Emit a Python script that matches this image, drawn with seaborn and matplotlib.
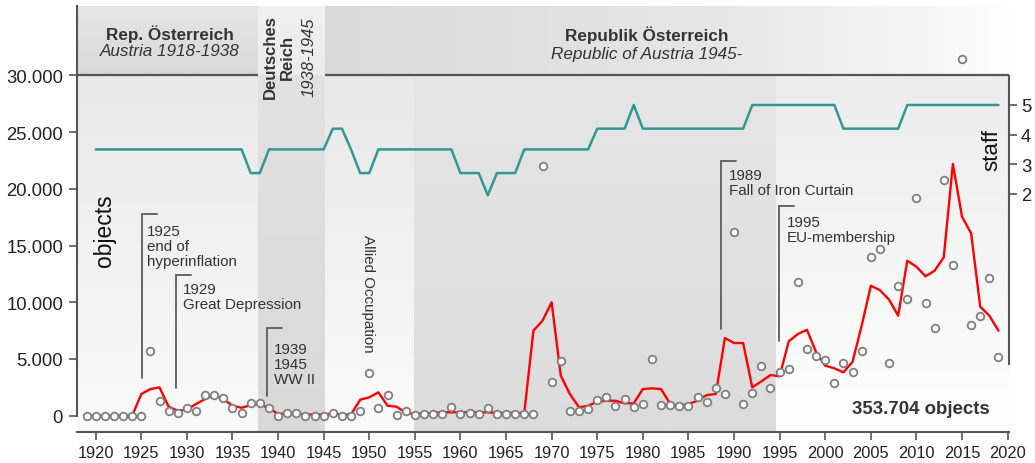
import numpy as np
import pandas as pd
import matplotlib
matplotlib.use("Agg")
import matplotlib.pyplot as plt
from matplotlib.ticker import FixedLocator, FuncFormatter
from matplotlib.colors import to_rgb
import seaborn as sns

# ---------------- data ----------------
years = list(range(1919, 2020))
objects = [
    0, 0, 0, 0, 0, 0, 0, 5680, 1320, 440,
    210, 680, 440, 1820, 1820, 1590, 680, 210, 1120, 1120,
    680, 0, 210, 210, 0, 0, 0, 210, 0, 0,
    440, 3760, 680, 1800, 100, 440, 50, 120, 120, 180,
    740, 120, 210, 120, 680, 180, 120, 120, 180, 120,
    22050, 2940, 4790, 440, 440, 590, 1380, 1650, 880, 1470,
    740, 1030, 5000, 940, 940, 820, 880, 1650, 1200, 2470,
    1880, 16180, 1000, 1970, 4410, 2440, 3820, 4120, 11790, 5850,
    5240, 4940, 2860, 4670, 3880, 5680, 13970, 14700, 4670, 11440,
    10290, 19200, 9940, 7730, 20790, 13290, 31450, 8030, 8820, 12170,
    5150,
]
trend = [
    0, 0, 0, 0, 0, 0, 1910, 2350, 2500, 790,
    440, 530, 1030, 1470, 1820, 1470, 880, 700, 940, 1030,
    650, 150, 200, 200, 100, 100, 100, 200, 100, 100,
    1410, 1620, 2060, 880, 790, 260, 150, 200, 250, 300,
    300, 300, 300, 300, 300, 250, 250, 250, 250, 7500,
    8380, 10000, 3530, 1910, 740, 880, 1230, 1320, 1320, 1090,
    1090, 2350, 2410, 2350, 1030, 880, 1030, 1320, 1820, 1910,
    6850, 6410, 6410, 2500, 3030, 3590, 3470, 6560, 7200, 7580,
    5590, 4410, 4180, 3820, 4760, 7940, 11460, 11070, 10230, 8820,
    13670, 13140, 12290, 12790, 13970, 22200, 17550, 16080, 9610, 8820,
    7500,
]
staff_years = list(range(1920, 2020))
staff = [
    3.5, 3.5, 3.5, 3.5, 3.5, 3.5, 3.5, 3.5, 3.5, 3.5,
    3.5, 3.5, 3.5, 3.5, 3.5, 3.5, 3.5, 2.7, 2.7, 3.5,
    3.5, 3.5, 3.5, 3.5, 3.5, 3.5, 4.2, 4.2, 3.5, 2.7,
    2.7, 3.5, 3.5, 3.5, 3.5, 3.5, 3.5, 3.5, 3.5, 3.5,
    2.7, 2.7, 2.7, 1.95, 2.7, 2.7, 2.7, 3.5, 3.5, 3.5,
    3.5, 3.5, 3.5, 3.5, 3.5, 4.2, 4.2, 4.2, 4.2, 5,
    4.2, 4.2, 4.2, 4.2, 4.2, 4.2, 4.2, 4.2, 4.2, 4.2,
    4.2, 4.2, 5, 5, 5, 5, 5, 5, 5, 5,
    5, 5, 4.2, 4.2, 4.2, 4.2, 4.2, 4.2, 4.2, 5,
    5, 5, 5, 5, 5, 5, 5, 5, 5, 5,
]
y_ticks = [0, 5000, 10000, 15000, 20000, 25000, 30000]
x_ticks = list(range(1920, 2021, 5))
staff_ticks = [2, 3, 4, 5]
total_label = "353.704 objects"

df = pd.DataFrame({"year": years, "objects": objects, "trend": trend})
df_staff = pd.DataFrame({"year": staff_years, "staff": staff})

# ---------------- style ----------------
sns.set_theme(style="white")
plt.rcParams["font.family"] = ["Liberation Sans", "DejaVu Sans"]

W, H = 1035, 464
fig = plt.figure(figsize=(W / 100, H / 100), dpi=100)
ax = fig.add_axes([77 / W, 1 - 433.3 / H, (1008.5 - 77) / W, (433.3 - 7) / H])
ax.patch.set_alpha(0)

XMIN, XMAX = 1917.95, 2020.1
YMIN, YMAX = -1464, 36127
HDR = 30000


def vgrad(x0, x1, y0, y1, cb, ct, z=0.1):
    t = np.linspace(0, 1, 64)[:, None, None]
    img = (1 - t) * np.array(to_rgb(cb)) + t * np.array(to_rgb(ct))
    ax.imshow(img, extent=[x0, x1, y0, y1], origin="lower", aspect="auto",
              zorder=z, interpolation="bilinear")


def hgrad(x0, x1, y0, y1, stops, z=0.1):
    xs = np.linspace(0, 1, 128)
    pos = [s[0] for s in stops]
    cols = np.array([to_rgb(s[1]) for s in stops])
    img = np.stack([np.interp(xs, pos, cols[:, k]) for k in range(3)], axis=-1)[None, :, :]
    ax.imshow(img, extent=[x0, x1, y0, y1], origin="lower", aspect="auto",
              zorder=z, interpolation="bilinear")


b1, b2, b3, b4 = 1937.8, 1945.1, 1954.9, 1994.6
# plot-area shading
vgrad(XMIN, b1, YMIN, HDR, "#fafafa", "#e9e9e9")
vgrad(b1, b2, YMIN, HDR, "#d9d9d9", "#e2e2e2")
vgrad(b2, b3, YMIN, HDR, "#fbfbfb", "#e8e8e8")
vgrad(b3, b4, YMIN, HDR, "#dcdcdc", "#e6e6e6")
vgrad(b4, XMAX, YMIN, HDR, "#fefefe", "#ececec")
# header shading
vgrad(XMIN, b1, HDR, YMAX, "#d9d9d9", "#e6e6e6")
vgrad(b1, b2, HDR, YMAX, "#ececec", "#f0f0f0")
hgrad(b2, XMAX + 1.5, HDR, YMAX, [(0, "#dadada"), (0.55, "#e6e6e6"), (0.9, "#f8f8f8"), (1, "#ffffff")])

# header separator line
ax.plot([XMIN, b1], [HDR, HDR], color="#555555", lw=1.6, zorder=2, solid_capstyle="butt")
ax.plot([b2, XMAX], [HDR, HDR], color="#555555", lw=1.6, zorder=2, solid_capstyle="butt")

# data
sns.lineplot(data=df, x="year", y="trend", ax=ax, color="#ff0000", lw=1.7, zorder=3)
sns.scatterplot(data=df, x="year", y="objects", ax=ax, s=30, color="white",
                edgecolor="#7f7f7f", linewidth=1.3, zorder=4, clip_on=False)

ax.set_xlim(XMIN, XMAX)
ax.set_ylim(YMIN, YMAX)

# axes styling
for s in ["top", "right"]:
    ax.spines[s].set_visible(False)
ax.spines["left"].set_bounds(0, YMAX)
for s in ["left", "bottom"]:
    ax.spines[s].set_color("#555555")
    ax.spines[s].set_linewidth(1.5)
ax.yaxis.set_major_locator(FixedLocator(y_ticks))
ax.yaxis.set_major_formatter(FuncFormatter(lambda v, _: f"{int(v):,}".replace(",", ".")))
ax.xaxis.set_major_locator(FixedLocator(x_ticks))
ax.tick_params(axis="y", length=6, width=1.2, color="#555555", labelsize=13.3,
               labelcolor="#222222", pad=4, left=True)
ax.tick_params(axis="x", length=6, width=1.2, color="#555555", labelsize=11.8,
               labelcolor="#222222", pad=3, bottom=True)
ax.set_xlabel("")
ax.set_ylabel("")

# staff axis
ax2 = ax.twinx()
sns.lineplot(data=df_staff, x="year", y="staff", ax=ax2, color="#2f9a93", lw=1.8, zorder=3)
ax2.set_ylim(-6.06, 8.345)
ax2.set_xlim(XMIN, XMAX)
for s in ["top", "left", "bottom"]:
    ax2.spines[s].set_visible(False)
ax2.spines["right"].set_bounds(-3.75, 5.98)
ax2.spines["right"].set_color("#555555")
ax2.spines["right"].set_linewidth(1.5)
ax2.yaxis.set_major_locator(FixedLocator(staff_ticks))
ax2.tick_params(axis="y", length=6, width=1.2, color="#555555", labelsize=13.3,
                labelcolor="#222222", pad=3, right=True)
ax2.set_ylabel("")
ax2.set_xlabel("")

# axis titles
ax.text(1921.0, 16375, "objects", rotation=90, ha="center", va="center",
        fontsize=16.5, color="#111111", zorder=5)
ax.text(2018.3, 23518, "staff", rotation=90, ha="center", va="center",
        fontsize=16, color="#111111", zorder=5)

# header labels
hdr_kw = dict(ha="center", va="center", color="#333333", zorder=5)
ax.text(1928.15, 33750, "Rep. Österreich", fontsize=12.3, fontweight="bold", **hdr_kw)
ax.text(1928.15, 32160, "Austria 1918-1938", fontsize=12.3, style="italic", **hdr_kw)
ax.text(1980.45, 33660, "Republik Österreich", fontsize=12.3, fontweight="bold", **hdr_kw)
ax.text(1980.45, 31900, "Republic of Austria 1945-", fontsize=12.3, style="italic", **hdr_kw)
ax.text(1940.1, 31720, "Deutsches\nReich", rotation=90, fontsize=12, fontweight="bold",
        linespacing=1.2, multialignment="center", **hdr_kw)
ax.text(1943.35, 31720, "1938-1945", rotation=90, fontsize=12, style="italic", **hdr_kw)

# event annotations
events = [
    (1925.04, 3300, 17790, 1926.75, 1925.66, 16900, "1925\nend of\nhyperinflation"),
    (1928.8, 2420, 12400, 1930.5, 1929.54, 11770, "1929\nGreat Depression"),
    (1938.8, 1710, 7730, 1940.4, 1939.5, 6525, "1939\n1945\nWW II"),
    (1988.56, 7645, 22490, 1990.2, 1989.47, 21816, "1989\nFall of Iron Curtain"),
    (1994.9, 6614, 18520, 1996.6, 1995.8, 17698, "1995\nEU-membership"),
]
for xv, ylo, yhi, xh, xt, yt, txt in events:
    ax.plot([xv, xv, xh], [ylo, yhi, yhi], color="#666666", lw=1.4, zorder=5,
            solid_joinstyle="miter")
    ax.text(xt, yt, txt, ha="left", va="top", fontsize=10.9, color="#333333",
            linespacing=1.1, zorder=5)
ax.text(1949.9, 10820, "Allied Occupation", rotation=270, ha="center", va="center",
        fontsize=10.9, color="#333333", zorder=5)
ax.text(2010.5, 650, total_label, ha="center", va="center", fontsize=13.4,
        fontweight="bold", color="#333333", zorder=5)

fig.savefig("out.png", dpi=100)
